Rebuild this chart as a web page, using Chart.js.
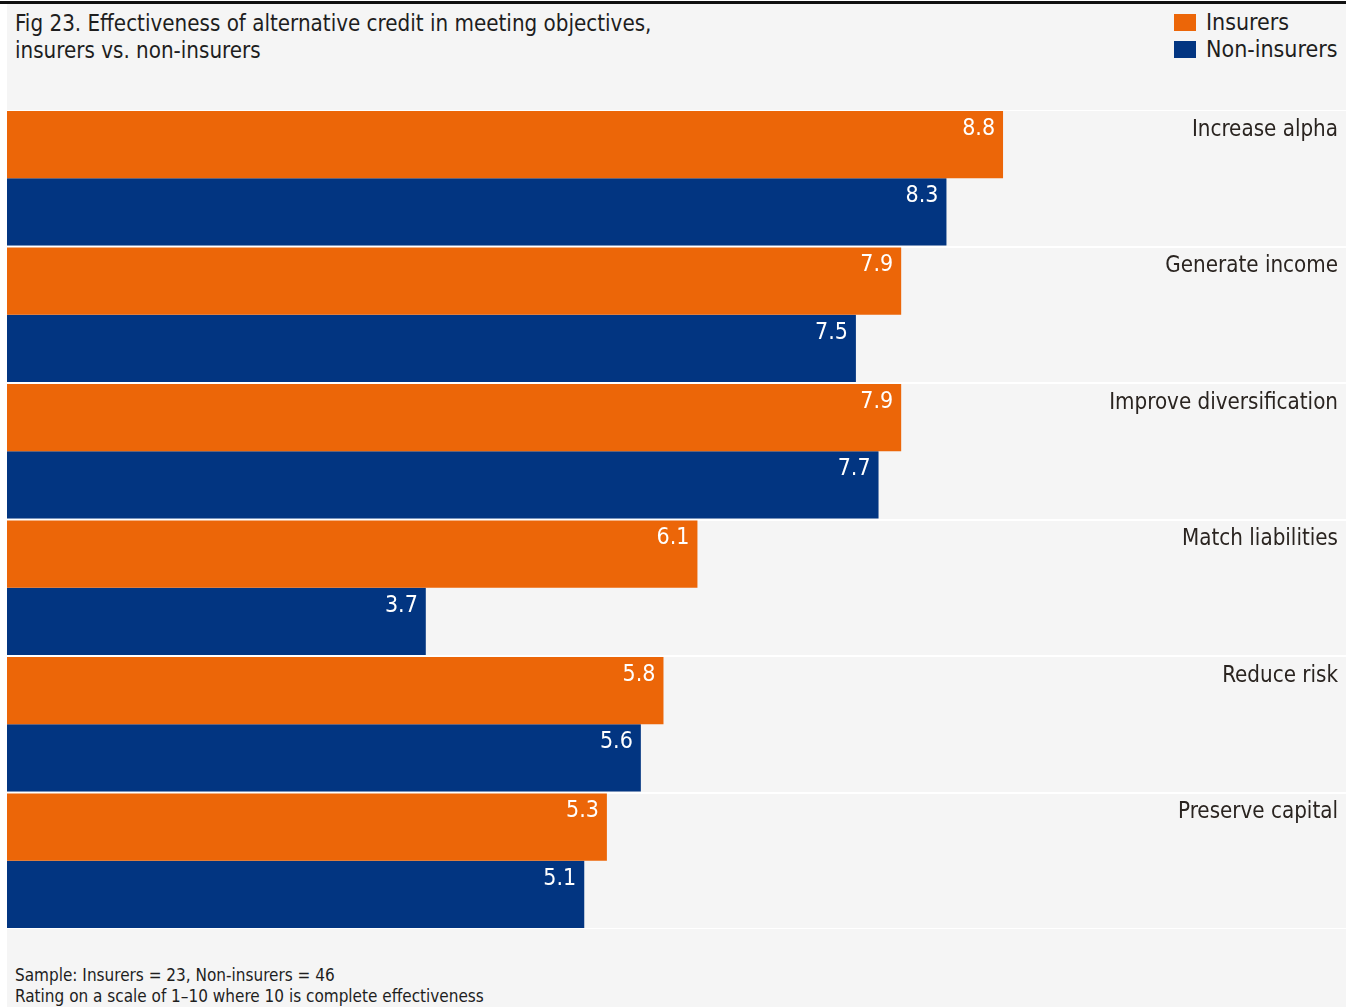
<!DOCTYPE html>
<html>
<head>
<meta charset="utf-8">
<script src="https://cdn.jsdelivr.net/npm/chart.js@4/dist/chart.umd.min.js"></script>
<style>
  html, body { margin: 0; padding: 0; background: #fff; }
  body { width: 1357px; height: 1007px; position: relative; overflow: hidden;
         font-family: "Liberation Sans Narrow", "DejaVu Sans Condensed", sans-serif; color: #1e1e1e; }
  .panel { position: absolute; left: 7px; top: 3px; width: 1339px; height: 1004px; background: #f5f5f5; }
  .topline { position: absolute; left: 0; top: 1px; width: 1346px; height: 3px; background: #111; }
  .title { position: absolute; left: 15px; top: 10px; font-size: 22.2px; line-height: 27px; }
  .legend { position: absolute; left: 1174px; top: 9px; font-size: 23px; line-height: 27px; }
  .legend div { position: relative; padding-left: 32px; }
  .legend span { position: absolute; left: 0; top: 5px; width: 22px; height: 17px; }
  .foot { position: absolute; left: 15px; top: 965px; font-size: 17px; line-height: 21px; }
  .wrap { position: absolute; left: 7px; top: 110px; width: 1339px; height: 819px; }
</style>
</head>
<body>
<div class="panel"></div>
<div class="topline"></div>
<div class="title">Fig 23. Effectiveness of alternative credit in meeting objectives,<br>insurers vs. non-insurers</div>
<div class="legend">
  <div><span style="background:#ec6608"></span>Insurers</div>
  <div><span style="background:#023581"></span>Non-insurers</div>
</div>
<div class="foot">Sample: Insurers = 23, Non-insurers = 46<br>Rating on a scale of 1–10 where 10 is complete effectiveness</div>
<div class="wrap"><canvas id="chart"></canvas></div>
<script>
// ── Data ──────────────────────────────────────────────────────
const categories = ["Increase alpha", "Generate income", "Improve diversification",
                    "Match liabilities", "Reduce risk", "Preserve capital"];
const insurers    = [8.8, 7.9, 7.9, 6.1, 5.8, 5.3];
const nonInsurers = [8.3, 7.5, 7.7, 3.7, 5.6, 5.1];

const ORANGE = "#ec6608";
const NAVY   = "#023581";
const FONT   = '"Liberation Sans Narrow", "DejaVu Sans Condensed", sans-serif';

// ── Labels: category names + values inside bar ends ───────────
const labelPlugin = {
  id: "labels",
  afterDatasetsDraw(chart) {
    const ctx = chart.ctx;
    const area = chart.chartArea;
    const yScale = chart.scales.y;
    const step = (area.bottom - area.top) / categories.length;
    ctx.save();
    ctx.textBaseline = "middle";
    ctx.textAlign = "right";
    ctx.font = "22.2px " + FONT;
    ctx.fillStyle = "#2a2420";
    categories.forEach((c, i) => {
      const top = yScale.getPixelForValue(i) - step / 2;
      ctx.fillText(c, area.right - 8, top + 20);
    });
    ctx.font = "23px " + FONT;
    ctx.fillStyle = "#fff";
    chart.data.datasets.forEach((ds, di) => {
      chart.getDatasetMeta(di).data.forEach((bar, i) => {
        const top = bar.y - bar.height / 2;
        ctx.fillText(ds.data[i].toFixed(1), bar.x - 8, top + 18);
      });
    });
    ctx.restore();
  }
};

new Chart(document.getElementById("chart"), {
  type: "bar",
  data: {
    labels: categories,
    datasets: [
      { label: "Insurers", data: insurers, backgroundColor: ORANGE },
      { label: "Non-insurers", data: nonInsurers, backgroundColor: NAVY }
    ]
  },
  options: {
    indexAxis: "y",
    responsive: true, maintainAspectRatio: false,
    animation: false,
    layout: { padding: 0 },
    categoryPercentage: 0.985,
    barPercentage: 1,
    plugins: { legend: { display: false }, tooltip: { enabled: false } },
    scales: {
      x: { display: false, min: 0, max: 11.83 },
      y: {
        ticks: { display: false },
        border: { display: false },
        grid: { color: "#ffffff", lineWidth: 2, drawTicks: false, offset: true }
      }
    }
  },
  plugins: [labelPlugin]
});
</script>
</body>
</html>
